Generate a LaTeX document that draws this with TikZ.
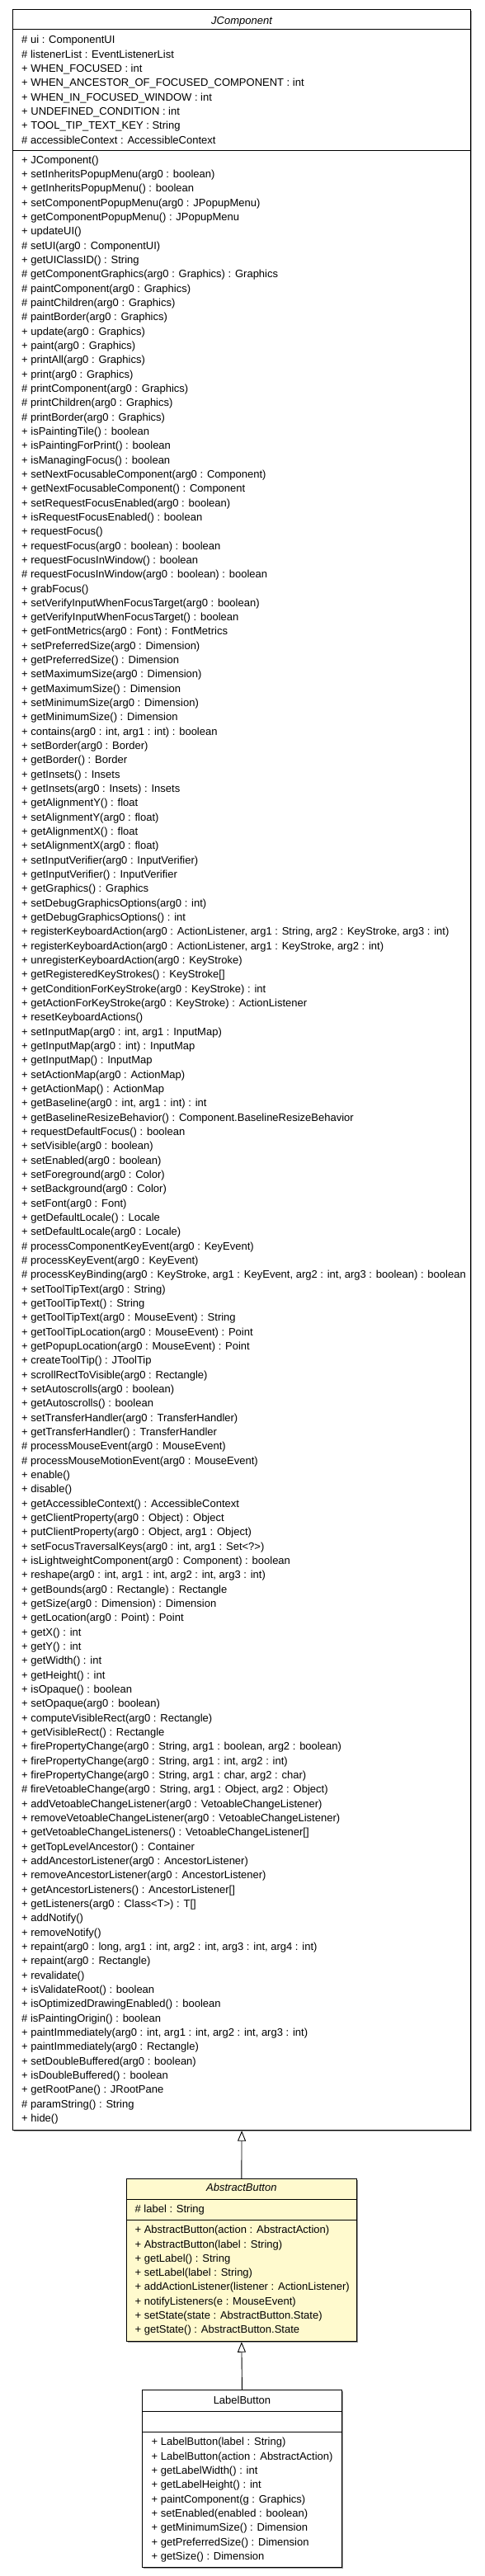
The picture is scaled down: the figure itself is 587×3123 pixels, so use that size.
\documentclass[tikz,border=0pt]{standalone}
\usepackage{fontspec}
\setmainfont{Liberation Sans}
\usetikzlibrary{arrows.meta,shadows}
\definecolor{umlyellow}{RGB}{255,250,206}
\definecolor{umlshadow}{RGB}{150,150,150}
\newcommand{\umlfont}{\fontsize{13}{15}\selectfont}

\begin{document}
\begin{tikzpicture}[x=1pt, y=-1pt, every node/.style={font=\umlfont},
    classbox/.style={draw, rectangle, line width=1pt, inner sep=0pt, fill=white,
        drop shadow={shadow xshift=1.3pt, shadow yshift=-1.3pt, fill=umlshadow, opacity=1}},
    member/.style={anchor=base west, inner sep=0pt},
    classname/.style={anchor=base, inner sep=0pt},
    sepline/.style={line width=1pt},
    extends/.style={-{Triangle[open, length=12.5pt, width=10pt]}, line width=0.9pt}]
    \useasboundingbox (0,0) rectangle (587,3123);

    % JComponent
    \node[classbox, minimum width=554.8pt, minimum height=2571pt] (jcomp) at (293.1,1297.2) {};
    \node[classname, font=\umlfont\itshape] (jname) at (293.1,29.6) {JComponent};
    \draw[sepline] (15.7,36) -- (570.5,36);
    \draw[sepline] (15.7,182.7) -- (570.5,182.7);

    % fields
    \foreach \a [count=\i from 0] in {\# ui : ComponentUI,
        \# listenerList : EventListenerList,
        + WHEN\_FOCUSED : int,
        + WHEN\_ANCESTOR\_OF\_FOCUSED\_COMPONENT : int,
        + WHEN\_IN\_FOCUSED\_WINDOW : int,
        + UNDEFINED\_CONDITION : int,
        + TOOL\_TIP\_TEXT\_KEY : String,
        \# accessibleContext : AccessibleContext} {
        \node[member] (ja\i) at (26,52.9+17.33*\i) {\a};
    }

    % methods
    \foreach \m [count=\i from 0] in {+ JComponent(),
        + setInheritsPopupMenu(arg0 : boolean),
        + getInheritsPopupMenu() : boolean,
        + setComponentPopupMenu(arg0 : JPopupMenu),
        + getComponentPopupMenu() : JPopupMenu,
        + updateUI(),
        \# setUI(arg0 : ComponentUI),
        + getUIClassID() : String,
        \# getComponentGraphics(arg0 : Graphics) : Graphics,
        \# paintComponent(arg0 : Graphics),
        \# paintChildren(arg0 : Graphics),
        \# paintBorder(arg0 : Graphics),
        + update(arg0 : Graphics),
        + paint(arg0 : Graphics),
        + printAll(arg0 : Graphics),
        + print(arg0 : Graphics),
        \# printComponent(arg0 : Graphics),
        \# printChildren(arg0 : Graphics),
        \# printBorder(arg0 : Graphics),
        + isPaintingTile() : boolean,
        + isPaintingForPrint() : boolean,
        + isManagingFocus() : boolean,
        + setNextFocusableComponent(arg0 : Component),
        + getNextFocusableComponent() : Component,
        + setRequestFocusEnabled(arg0 : boolean),
        + isRequestFocusEnabled() : boolean,
        + requestFocus(),
        + requestFocus(arg0 : boolean) : boolean,
        + requestFocusInWindow() : boolean,
        \# requestFocusInWindow(arg0 : boolean) : boolean,
        + grabFocus(),
        + setVerifyInputWhenFocusTarget(arg0 : boolean),
        + getVerifyInputWhenFocusTarget() : boolean,
        + getFontMetrics(arg0 : Font) : FontMetrics,
        + setPreferredSize(arg0 : Dimension),
        + getPreferredSize() : Dimension,
        + setMaximumSize(arg0 : Dimension),
        + getMaximumSize() : Dimension,
        + setMinimumSize(arg0 : Dimension),
        + getMinimumSize() : Dimension,
        {+ contains(arg0 : int, arg1 : int) : boolean},
        + setBorder(arg0 : Border),
        + getBorder() : Border,
        + getInsets() : Insets,
        + getInsets(arg0 : Insets) : Insets,
        + getAlignmentY() : float,
        + setAlignmentY(arg0 : float),
        + getAlignmentX() : float,
        + setAlignmentX(arg0 : float),
        + setInputVerifier(arg0 : InputVerifier),
        + getInputVerifier() : InputVerifier,
        + getGraphics() : Graphics,
        + setDebugGraphicsOptions(arg0 : int),
        + getDebugGraphicsOptions() : int,
        {+ registerKeyboardAction(arg0 : ActionListener, arg1 : String, arg2 : KeyStroke, arg3 : int)},
        {+ registerKeyboardAction(arg0 : ActionListener, arg1 : KeyStroke, arg2 : int)},
        + unregisterKeyboardAction(arg0 : KeyStroke),
        + getRegisteredKeyStrokes() : KeyStroke[],
        + getConditionForKeyStroke(arg0 : KeyStroke) : int,
        + getActionForKeyStroke(arg0 : KeyStroke) : ActionListener,
        + resetKeyboardActions(),
        {+ setInputMap(arg0 : int, arg1 : InputMap)},
        + getInputMap(arg0 : int) : InputMap,
        + getInputMap() : InputMap,
        + setActionMap(arg0 : ActionMap),
        + getActionMap() : ActionMap,
        {+ getBaseline(arg0 : int, arg1 : int) : int},
        + getBaselineResizeBehavior() : Component.BaselineResizeBehavior,
        + requestDefaultFocus() : boolean,
        + setVisible(arg0 : boolean),
        + setEnabled(arg0 : boolean),
        + setForeground(arg0 : Color),
        + setBackground(arg0 : Color),
        + setFont(arg0 : Font),
        + getDefaultLocale() : Locale,
        + setDefaultLocale(arg0 : Locale),
        \# processComponentKeyEvent(arg0 : KeyEvent),
        \# processKeyEvent(arg0 : KeyEvent),
        {\# processKeyBinding(arg0 : KeyStroke, arg1 : KeyEvent, arg2 : int, arg3 : boolean) : boolean},
        + setToolTipText(arg0 : String),
        + getToolTipText() : String,
        + getToolTipText(arg0 : MouseEvent) : String,
        + getToolTipLocation(arg0 : MouseEvent) : Point,
        + getPopupLocation(arg0 : MouseEvent) : Point,
        + createToolTip() : JToolTip,
        + scrollRectToVisible(arg0 : Rectangle),
        + setAutoscrolls(arg0 : boolean),
        + getAutoscrolls() : boolean,
        + setTransferHandler(arg0 : TransferHandler),
        + getTransferHandler() : TransferHandler,
        \# processMouseEvent(arg0 : MouseEvent),
        \# processMouseMotionEvent(arg0 : MouseEvent),
        + enable(),
        + disable(),
        + getAccessibleContext() : AccessibleContext,
        + getClientProperty(arg0 : Object) : Object,
        {+ putClientProperty(arg0 : Object, arg1 : Object)},
        {+ setFocusTraversalKeys(arg0 : int, arg1 : Set<?>)},
        + isLightweightComponent(arg0 : Component) : boolean,
        {+ reshape(arg0 : int, arg1 : int, arg2 : int, arg3 : int)},
        + getBounds(arg0 : Rectangle) : Rectangle,
        + getSize(arg0 : Dimension) : Dimension,
        + getLocation(arg0 : Point) : Point,
        + getX() : int,
        + getY() : int,
        + getWidth() : int,
        + getHeight() : int,
        + isOpaque() : boolean,
        + setOpaque(arg0 : boolean),
        + computeVisibleRect(arg0 : Rectangle),
        + getVisibleRect() : Rectangle,
        {+ firePropertyChange(arg0 : String, arg1 : boolean, arg2 : boolean)},
        {+ firePropertyChange(arg0 : String, arg1 : int, arg2 : int)},
        {+ firePropertyChange(arg0 : String, arg1 : char, arg2 : char)},
        {\# fireVetoableChange(arg0 : String, arg1 : Object, arg2 : Object)},
        + addVetoableChangeListener(arg0 : VetoableChangeListener),
        + removeVetoableChangeListener(arg0 : VetoableChangeListener),
        + getVetoableChangeListeners() : VetoableChangeListener[],
        + getTopLevelAncestor() : Container,
        + addAncestorListener(arg0 : AncestorListener),
        + removeAncestorListener(arg0 : AncestorListener),
        + getAncestorListeners() : AncestorListener[],
        + getListeners(arg0 : Class<T>) : T[],
        + addNotify(),
        + removeNotify(),
        {+ repaint(arg0 : long, arg1 : int, arg2 : int, arg3 : int, arg4 : int)},
        + repaint(arg0 : Rectangle),
        + revalidate(),
        + isValidateRoot() : boolean,
        + isOptimizedDrawingEnabled() : boolean,
        \# isPaintingOrigin() : boolean,
        {+ paintImmediately(arg0 : int, arg1 : int, arg2 : int, arg3 : int)},
        + paintImmediately(arg0 : Rectangle),
        + setDoubleBuffered(arg0 : boolean),
        + isDoubleBuffered() : boolean,
        + getRootPane() : JRootPane,
        \# paramString() : String,
        + hide()} {
        \node[member] (jm\i) at (26,198.1+17.33*\i) {\m};
    }

    % AbstractButton
    \node[classbox, fill=umlyellow, minimum width=279.3pt, minimum height=197pt] (abtn) at (292.85,2740.2) {};
    \node[classname, font=\umlfont\itshape] (aname) at (292.85,2656.9) {AbstractButton};
    \draw[sepline] (153.2,2666.7) -- (432.5,2666.7);
    \draw[sepline] (153.2,2691.7) -- (432.5,2691.7);
    \node[member] (aa0) at (163.4,2682.9) {\# label : String};
    \foreach \m [count=\i from 0] in {+ AbstractButton(action : AbstractAction),
        + AbstractButton(label : String),
        + getLabel() : String,
        + setLabel(label : String),
        + addActionListener(listener : ActionListener),
        + notifyListeners(e : MouseEvent),
        + setState(state : AbstractButton.State),
        + getState() : AbstractButton.State} {
        \node[member] (am\i) at (163.4,2707.9+17.25*\i) {\m};
    }

    % LabelButton
    \node[classbox, minimum width=241.5pt, minimum height=215pt] (lbtn) at (293.45,3004.8) {};
    \node[classname] (lname) at (293.45,2914.3) {LabelButton};
    \draw[sepline] (172.7,2923) -- (414.2,2923);
    \draw[sepline] (172.7,2948.7) -- (414.2,2948.7);
    \foreach \m [count=\i from 0] in {+ LabelButton(label : String),
        + LabelButton(action : AbstractAction),
        + getLabelWidth() : int,
        + getLabelHeight() : int,
        + paintComponent(g : Graphics),
        + setEnabled(enabled : boolean),
        + getMinimumSize() : Dimension,
        + getPreferredSize() : Dimension,
        + getSize() : Dimension} {
        \node[member] (lm\i) at (183.5,2964.9+17.3*\i) {\m};
    }

    % generalisation
    \draw[extends] (abtn.north) -- (jcomp.south);
    \draw[extends] (lbtn.north) -- (abtn.south);
\end{tikzpicture}
\end{document}
